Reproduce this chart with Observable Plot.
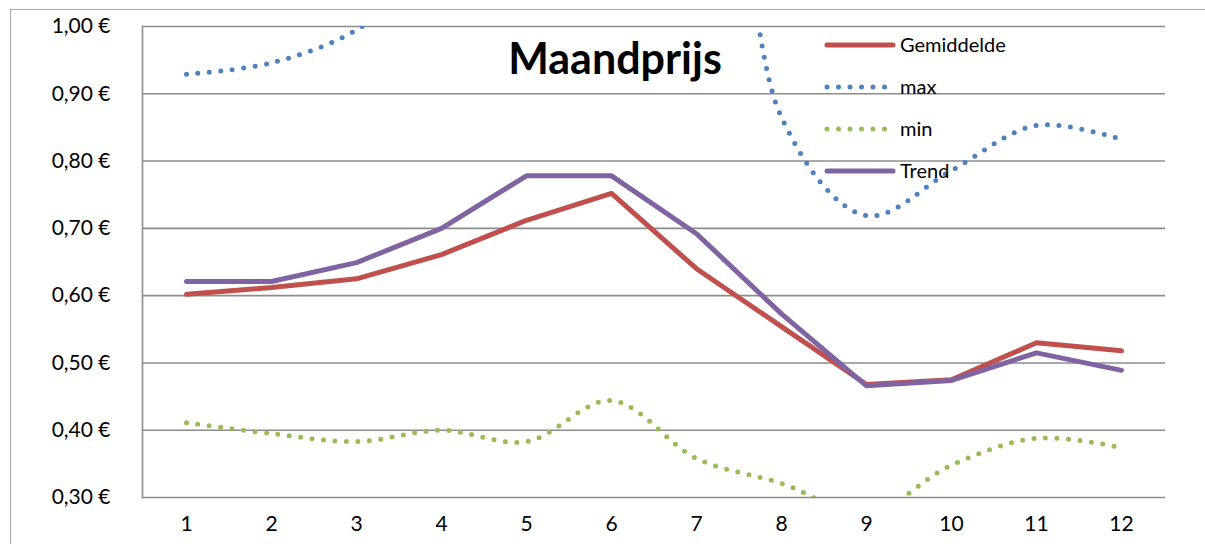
<!DOCTYPE html>
<html><head><meta charset="utf-8">
<script src="https://cdn.jsdelivr.net/npm/d3@7"></script>
<script src="https://cdn.jsdelivr.net/npm/@observablehq/plot@0.6"></script>
<style>
body{margin:0;overflow:hidden;background:#fff;font-family:Lato,"Open Sans",sans-serif}
#wrap{position:relative;width:1205px;height:544px;overflow:hidden}
#border{position:absolute;left:10px;top:9px;width:1400px;height:800px;border:1.5px solid #a6a6a6;box-sizing:border-box}
#chart{position:absolute;left:0;top:0}
#legend{position:absolute;left:0;top:0}
</style></head><body>
<div id="wrap"><div id="border"></div><div id="chart"></div><svg id="legend" width="1205" height="544"></svg></div>
<script>
const months = [1,2,3,4,5,6,7,8,9,10,11,12];
const gemiddelde = [0.602,0.612,0.625,0.661,0.712,0.752,0.640,0.554,0.468,0.475,0.530,0.518];
const maxPrijs = [0.929,0.946,0.995,1.10,1.25,1.45,1.65,0.865,0.719,0.786,0.853,0.832];
const minPrijs = [0.411,0.395,0.383,0.400,0.383,0.444,0.358,0.321,0.276,0.348,0.388,0.374];
const trend = [0.621,0.621,0.649,0.700,0.778,0.778,0.692,0.573,0.466,0.474,0.515,0.489];
const yTicks = [0.3,0.4,0.5,0.6,0.7,0.8,0.9,1.0];
const seriesNames = ["Gemiddelde","max","min","Trend"];
const seriesColors = ["#C0504D","#4F81BD","#9BBB59","#8064A2"];
const titleText = "Maandprijs";

const toRows = vals => months.map((m,i)=>({m, v: vals[i]}));
const fmt = v => d3.format(".2f")(v).replace(".", ",") + " €";

const chart = Plot.plot({
  width:1205, height:544,
  marginLeft:142, marginRight:40, marginTop:26, marginBottom:47,
  style:{fontFamily:"Lato, sans-serif", fontSize:"21px", color:"#000", background:"transparent", overflow:"visible"},
  x:{type:"point", domain:months, padding:0.5, label:null},
  y:{domain:[0.3,1.0], label:null},
  marks:[
    Plot.ruleY(yTicks, {stroke:"#8c8c8c", strokeWidth:1.6}),
    Plot.frame({anchor:"left", stroke:"#8c8c8c", strokeWidth:1.6}),
    Plot.axisY(yTicks, {tickSize:0, tickPadding:32, tickFormat:fmt, fontSize:21, label:null}),
    Plot.axisX(months, {tickSize:0, tickPadding:19, fontSize:21, label:null}),
    Plot.line(toRows(maxPrijs), {x:"m", y:"v", stroke:seriesColors[1], strokeWidth:5, strokeDasharray:"0 11.5", strokeLinecap:"round", curve:"catmull-rom", clip:true}),
    Plot.line(toRows(minPrijs), {x:"m", y:"v", stroke:seriesColors[2], strokeWidth:5, strokeDasharray:"0 11.5", strokeLinecap:"round", curve:"catmull-rom", clip:true}),
    Plot.line(toRows(gemiddelde), {x:"m", y:"v", stroke:seriesColors[0], strokeWidth:5, strokeLinejoin:"round", clip:true}),
    Plot.line(toRows(trend), {x:"m", y:"v", stroke:seriesColors[3], strokeWidth:5, strokeLinejoin:"round", clip:true}),
    Plot.text([titleText], {text:d=>d, frameAnchor:"top", lineAnchor:"middle", dx:-39, dy:34, fontSize:43, fontWeight:"bold", fill:"#000"})
  ]
});
document.getElementById("chart").appendChild(chart);

// legend overlay
const lg = d3.select("#legend");
seriesNames.forEach((name,i)=>{
  const y = 45 + i*42;
  const g = lg.append("g");
  const solid = (i===0 || i===3);
  g.append("line").attr("x1",827).attr("x2",solid?893:888).attr("y1",y).attr("y2",y)
    .attr("stroke",seriesColors[i]).attr("stroke-width",5)
    .attr("stroke-linecap","round")
    .attr("stroke-dasharray",solid?null:"0 11.5");
  g.append("text").attr("x",900).attr("y",y).attr("dy","0.35em")
    .attr("font-family","Lato, sans-serif").attr("font-size",20).text(name);
});
</script>
</body></html>
